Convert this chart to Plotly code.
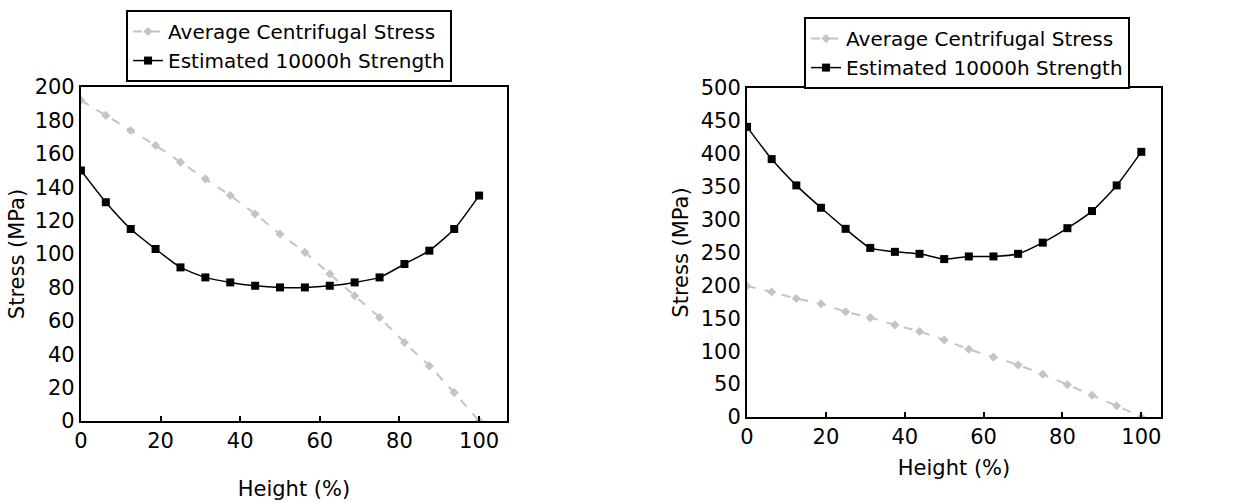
import plotly.graph_objects as go

height = [0, 6.25, 12.5, 18.75, 25, 31.25, 37.5, 43.75, 50, 56.25, 62.5, 68.75, 75, 81.25, 87.5, 93.75, 100]

left_avg = [192, 183, 174, 165, 155, 145, 135, 124, 112, 101, 88, 75, 62, 47, 33, 17, 0]
left_est = [150, 131, 115, 103, 92, 86, 83, 81, 80, 80, 81, 83, 86, 94, 102, 115, 135]

right_avg = [199, 190, 180, 172, 160, 151, 140, 130, 117, 103, 91, 79, 65, 49, 33, 17, 0]
right_est = [441, 392, 352, 318, 286, 257, 251, 248, 240, 244, 244, 248, 265, 287, 313, 352, 403]

x_ticks = [0, 20, 40, 60, 80, 100]
left_y_ticks = list(range(0, 201, 20))
right_y_ticks = list(range(0, 501, 50))

name_avg = "Average Centrifugal Stress"
name_est = "Estimated 10000h Strength"
x_title = "Height (%)"
y_title = "Stress (MPa)"

FONT = "DejaVu Sans"
gray = "#c4c4c4"
FS = 21

fig = go.Figure()

def add_pair(avg, est, xa, ya, legend):
    fig.add_trace(go.Scatter(
        x=height, y=avg, name=name_avg, mode="lines+markers",
        line=dict(color=gray, width=2, dash="dash", shape="spline", smoothing=0.6),
        marker=dict(symbol="diamond", size=7, color=gray),
        xaxis=xa, yaxis=ya, legend=legend))
    fig.add_trace(go.Scatter(
        x=height, y=est, name=name_est, mode="lines+markers",
        line=dict(color="black", width=1.5, shape="spline", smoothing=0.6),
        marker=dict(symbol="square", size=8, color="black"),
        xaxis=xa, yaxis=ya, legend=legend))

add_pair(left_avg, left_est, "x", "y", "legend")
add_pair(right_avg, right_est, "x2", "y2", "legend2")

axis_common = dict(showgrid=False, zeroline=False, showline=True, linecolor="black",
                   linewidth=2, mirror=True, automargin=False,
                   tickfont=dict(family=FONT, size=FS, color="black"))

fig.update_layout(
    width=1253, height=503,
    margin=dict(l=0, r=0, t=0, b=0, autoexpand=False),
    paper_bgcolor="white", plot_bgcolor="white",
    font=dict(family=FONT, color="black"),
    xaxis=dict(domain=[0.0646, 0.4046], range=[0, 107], tickvals=x_ticks,
               ticks="inside", ticklen=5, tickwidth=1.5, tickcolor="black",
               title=dict(text=x_title, font=dict(family=FONT, size=FS), standoff=29),
               anchor="y", **axis_common),
    yaxis=dict(domain=[0.163, 0.827], range=[0, 200], tickvals=left_y_ticks,
               ticks="", title=dict(text=y_title, font=dict(family=FONT, size=FS), standoff=4),
               anchor="x", **axis_common),
    xaxis2=dict(domain=[0.5962, 0.9266], range=[0, 105], tickvals=x_ticks,
                ticks="inside", ticklen=5, tickwidth=1.5, tickcolor="black",
                title=dict(text=x_title, font=dict(family=FONT, size=FS), standoff=12),
                anchor="y2", **axis_common),
    yaxis2=dict(domain=[0.171, 0.825], range=[0, 500], tickvals=right_y_ticks,
                ticks="", title=dict(text=y_title, font=dict(family=FONT, size=FS), standoff=6),
                anchor="x2", **axis_common),
    legend=dict(x=0.1006, y=0.98, xanchor="left", yanchor="top",
                bordercolor="black", borderwidth=2, bgcolor="white",
                font=dict(family=FONT, size=20), tracegroupgap=0, itemwidth=30),
    legend2=dict(x=0.6417, y=0.966, xanchor="left", yanchor="top",
                 bordercolor="black", borderwidth=2, bgcolor="white",
                 font=dict(family=FONT, size=20), tracegroupgap=0, itemwidth=30),
    showlegend=True,
)

fig.write_html("out.html")
